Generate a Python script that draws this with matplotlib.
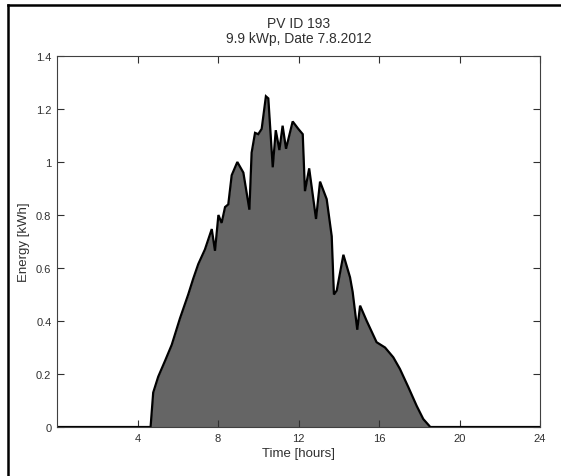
import numpy as np
import matplotlib.pyplot as plt
from matplotlib.lines import Line2D

plt.rcParams['font.family'] = ['Liberation Sans', 'DejaVu Sans']

#
# energy profile for the day (hours, kWh)
hours = [0.0, 4.65, 4.78, 5.03, 5.37, 5.70, 6.11, 6.52, 6.77, 7.02, 7.35,
         7.69, 7.85, 8.02, 8.18, 8.35, 8.51, 8.68, 8.96, 9.26, 9.56, 9.67,
         9.84, 10.00, 10.17, 10.38, 10.50, 10.72, 10.87, 11.05, 11.21, 11.38,
         11.71, 11.99, 12.21, 12.32, 12.53, 12.87, 13.07, 13.40, 13.65, 13.76,
         13.90, 14.23, 14.56, 14.69, 14.92, 15.06, 15.39, 15.88, 16.30, 16.71,
         17.04, 17.46, 17.87, 18.20, 18.55, 24.0]
energy = [0.0, 0.0, 0.13, 0.19, 0.25, 0.31, 0.41, 0.50, 0.56, 0.615, 0.67,
          0.747, 0.665, 0.80, 0.77, 0.83, 0.84, 0.95, 1.00, 0.96, 0.82, 1.035,
          1.11, 1.105, 1.125, 1.248, 1.24, 0.98, 1.12, 1.045, 1.137, 1.05,
          1.153, 1.125, 1.105, 0.89, 0.976, 0.785, 0.926, 0.86, 0.72, 0.50,
          0.515, 0.65, 0.565, 0.51, 0.367, 0.458, 0.40, 0.32, 0.30, 0.263,
          0.219, 0.15, 0.08, 0.03, 0.0, 0.0]

xticks = [4, 8, 12, 16, 20, 24]
yticks = [0, 0.2, 0.4, 0.6, 0.8, 1.0, 1.2, 1.4]
ytick_labels = ['0', '0.2', '0.4', '0.6', '0.8', '1', '1.2', '1.4']

fig = plt.figure(figsize=(5.61, 4.77), dpi=100)
ax = fig.add_axes([0.1016, 0.1027, 0.8610, 0.7778])

ax.fill_between(hours, energy, 0, color='#656565', lw=0)
ax.plot(hours, energy, c='k', lw=1.6, solid_joinstyle='miter')

ax.set_xlim(0, 24)
ax.set_ylim(0, 1.4)
ax.set_xticks(xticks)
ax.set_yticks(yticks)
ax.set_yticklabels(ytick_labels)
ax.tick_params(direction='in', length=5, width=0.8, top=True, right=True,
               labelsize=8, colors='#303030', pad=4)
for s in ax.spines.values():
    s.set_color('#404040')
    s.set_linewidth(0.8)

ax.set_xlabel('Time [hours]', fontsize=9.5, color='#303030', labelpad=3)
ax.set_ylabel('Energy [kWh]', fontsize=9.5, color='#303030', labelpad=4)
ax.set_title('PV ID 193\n9.9 kWp, Date 7.8.2012', fontsize=10,
             color='#303030', pad=10, linespacing=1.1)

#
# frame lines round the figure
fig.add_artist(Line2D([0.015, 1.0], [0.987, 0.987], color='k', lw=1.8))
fig.add_artist(Line2D([0.015, 0.015], [0.0, 0.987], color='k', lw=1.8))

fig.savefig('out.png', dpi=100)
plt.close()
